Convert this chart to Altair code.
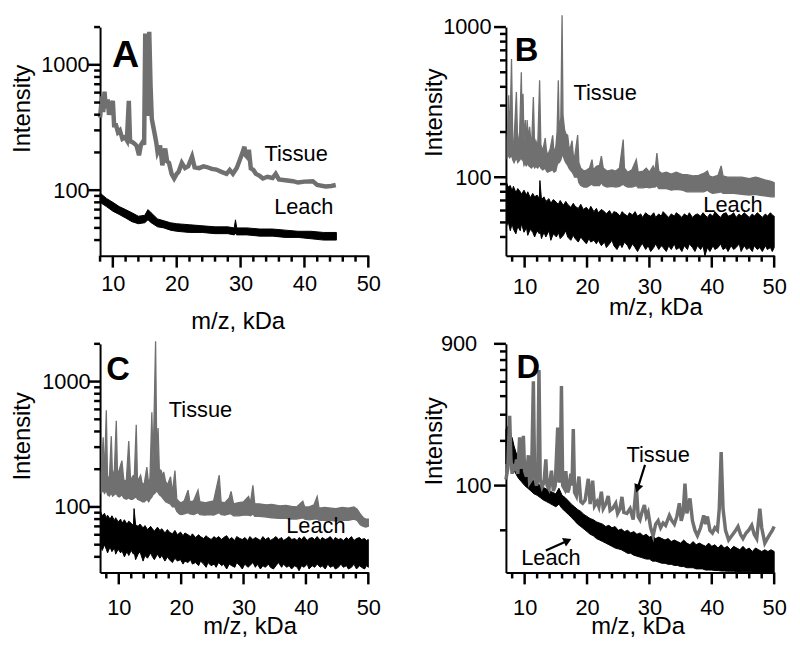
import altair as alt
import pandas as pd

GRAY = "#707070"
FONT = "Liberation Sans"
H = 231  # plot height of every panel
W = 271  # plot width of every panel

# ---------------- Panel A ----------------
A_TISSUE_X = [8.0, 8.3, 8.5, 8.7, 8.9, 9.2, 9.4, 9.7, 10.0, 10.2, 10.5, 10.8, 11.1, 11.5, 11.9, 12.2, 12.5, 12.7, 13.0, 13.4,
              13.7, 14.1, 14.4, 14.7, 14.9, 15.07, 15.25, 15.4, 15.55, 15.7, 15.9, 16.1, 16.5, 16.8, 17.0, 17.4, 17.75, 18.2,
              18.5, 18.8, 19.2, 19.6, 20.0, 20.3, 20.8, 21.3, 21.8, 22.4, 22.8, 23.5, 24.2, 24.7, 25.5, 26.2, 27.0, 27.8,
              28.3, 28.8, 29.4, 29.8, 30.3, 30.6, 30.8, 31.0, 31.3, 31.6, 32.0, 32.4, 33.0, 33.5, 34.2, 35.0, 35.5, 36.0,
              37.0, 38.2, 39.0, 40.0, 41.3, 42.0, 43.3, 44.2, 44.9]
A_TISSUE_Y = [380, 560, 420, 610, 450, 530, 400, 470, 515, 330, 330, 290, 300, 257, 265, 250, 515, 245, 243, 235,
              227, 190, 230, 243, 230, 1780, 600, 392, 700, 1830, 700, 370, 290, 240, 202, 227, 158, 215,
              170, 165, 135, 124, 135, 140, 165, 150, 155, 185, 152, 150, 155, 153, 148, 146, 140, 135,
              145, 135, 150, 170, 200, 222, 190, 185, 210, 149, 145, 135, 130, 124, 128, 125, 135, 122,
              120, 118, 115, 117, 118, 110, 107, 108, 110]
A_LEACH_X = [8.0, 9.0, 10.0, 11.0, 12.0, 13.0, 14.0, 15.0, 15.5, 16.0, 17.0, 18.0, 19.0, 20.0, 22.0, 24.0, 26.0, 28.0,
             29.0, 29.2, 29.4, 31.0, 33.0, 35.0, 37.0, 39.0, 41.0, 43.0, 45.0]
A_LEACH_LO = [80, 74, 68, 64, 60, 56, 54, 55, 58, 55, 51, 50, 48, 47, 46, 46, 45, 45, 44, 45, 44, 44, 43, 43, 42, 42, 41, 40, 40]
A_LEACH_HI = [95, 86, 80, 74, 70, 66, 62, 63, 70, 66, 59, 57, 55, 54, 53, 52, 51, 51, 50, 58, 50, 50, 49, 49, 48, 47, 47, 46, 46]

# ---------------- Panel B ----------------
B_TISSUE_X = [7.2, 7.45, 7.6, 7.9, 8.1, 8.3, 8.68, 8.9, 9.2, 9.47, 9.6, 9.74, 9.9, 10.1, 10.25, 10.4, 10.6, 10.8, 11.1, 11.4,
              11.6, 11.8, 12.1, 12.4, 12.6, 12.9, 13.3, 13.5, 13.7, 14.1, 14.5, 14.7, 15.0, 15.2, 15.4, 15.55, 15.8, 16.0,
              16.15, 16.4, 16.6, 16.9, 17.1, 17.3, 17.6, 17.8, 18.0, 18.5, 18.7, 19.0, 19.5, 20.0, 20.4, 20.8, 21.0, 21.5,
              22.0, 22.3, 22.6, 23.2, 24.0, 24.6, 25.2, 25.8, 26.0, 26.5, 27.2, 27.9, 28.2, 29.0, 29.5, 30.0, 30.6, 30.9,
              31.2, 31.5, 32.0, 32.7, 33.5, 34.3, 35.3, 36.0, 37.0, 37.9, 38.7, 39.3, 39.6, 40.1, 41.0, 41.5, 41.8, 42.5,
              43.5, 44.8, 46.0, 47.0, 47.5, 48.5, 49.5, 50.0]
B_TISSUE_LO = [135, 140, 135, 140, 130, 125, 135, 125, 130, 135, 130, 130, 120, 125, 118, 125, 120, 118, 115, 120,
               115, 118, 115, 120, 115, 112, 115, 110, 108, 110, 112, 108, 110, 120, 125, 125, 130, 140, 140, 130,
               125, 120, 115, 112, 108, 105, 100, 100, 92, 88, 86, 86, 88, 90, 88, 88, 88, 92, 88, 86,
               87, 86, 87, 90, 88, 86, 86, 88, 85, 85, 86, 85, 86, 86, 88, 84, 84, 84, 82, 83,
               82, 80, 80, 80, 80, 82, 80, 78, 79, 80, 78, 78, 78, 77, 76, 77, 76, 75, 74, 74]
B_TISSUE_HI = [175, 352, 170, 612, 165, 175, 370, 160, 200, 500, 200, 360, 170, 240, 160, 240, 180, 217, 155, 342,
               160, 175, 160, 442, 165, 150, 182, 150, 140, 155, 190, 145, 160, 200, 442, 200, 250, 1200, 260, 207,
               195, 190, 160, 155, 175, 140, 135, 191, 125, 115, 110, 112, 115, 131, 112, 118, 120, 138, 115, 110,
               112, 110, 115, 178, 115, 108, 112, 131, 108, 110, 115, 108, 119, 110, 145, 110, 106, 108, 105, 108,
               104, 104, 102, 103, 106, 110, 102, 100, 103, 119, 102, 100, 100, 100, 98, 100, 99, 96, 94, 92]
B_LEACH_X = [7.1, 7.35, 7.7, 8.0, 8.2, 8.6, 8.9, 9.3, 9.5, 9.9,
             10.3, 10.5, 10.9, 11.3, 11.6, 12.0, 12.35, 12.45, 12.7, 13.1,
             13.4, 13.9, 14.2, 14.6, 15.1, 15.4, 15.7, 16.2, 16.6, 16.9,
             17.4, 17.8, 18.1, 18.6, 19.0, 19.4, 19.9, 20.3, 20.6, 21.1,
             21.5, 21.8, 22.3, 22.8, 23.1, 23.6, 24.0, 24.3, 24.8, 25.3,
             25.6, 26.0, 26.5, 26.8, 27.3, 27.7, 28.1, 28.6, 28.9, 29.4,
             29.8, 30.2, 30.7, 31.0, 31.5, 31.9, 32.2, 32.7, 33.1, 33.5,
             34.0, 34.3, 34.8, 35.2, 35.6, 36.1, 36.4, 36.9, 37.3, 37.7,
             38.2, 38.6, 38.9, 39.3, 39.7, 40.2, 40.5, 41.0, 41.4, 41.8,
             42.3, 42.6, 43.1, 43.5, 43.9, 44.4, 44.7, 45.2, 45.6, 46.0,
             46.5, 46.8, 47.3, 47.7, 48.1, 48.6, 48.9, 49.4, 49.7, 50.0]
B_LEACH_HI = [92, 86, 88, 81, 87, 79, 84, 80, 77, 82,
              76, 80, 73, 78, 74, 76, 72, 95, 71, 74,
              69, 72, 67, 71, 68, 66, 70, 65, 69, 66,
              63, 67, 64, 62, 66, 61, 63, 60, 64, 59,
              62, 58, 61, 59, 57, 60, 56, 59, 58, 55,
              59, 57, 55, 58, 56, 59, 55, 57, 54, 58,
              56, 55, 58, 54, 57, 55, 59, 56, 54, 57,
              55, 58, 56, 54, 57, 55, 58, 54, 56, 57,
              55, 58, 56, 54, 57, 55, 59, 56, 54, 57,
              58, 55, 56, 58, 54, 57, 55, 58, 56, 54,
              57, 55, 58, 56, 54, 57, 55, 58, 56, 55]
B_LEACH_LO = [47, 51, 44, 49, 45, 42, 47, 44, 49, 43,
              46, 41, 45, 43, 40, 44, 42, 45, 39, 43,
              40, 44, 38, 42, 40, 43, 39, 41, 44, 40,
              38, 41, 39, 37, 40, 38, 36, 39, 37, 38,
              36, 38, 35, 37, 34, 36, 38, 35, 33, 36,
              34, 37, 35, 33, 36, 34, 32, 35, 36, 33,
              35, 32, 34, 36, 33, 35, 34, 32, 35, 33,
              36, 33, 34, 32, 35, 33, 36, 34, 32, 35,
              33, 35, 30, 34, 32, 35, 33, 34, 36, 33,
              34, 32, 35, 33, 34, 36, 32, 35, 33, 34,
              32, 35, 33, 34, 32, 35, 33, 34, 32, 34]

# ---------------- Panel C ----------------
C_TISSUE_X = [7.2, 7.5, 7.7, 8.0, 8.2, 8.5, 8.8, 9.0, 9.3, 9.6, 9.8, 10.1, 10.5, 10.8, 11.2, 11.6, 11.9, 12.2, 12.5, 12.8,
              13.0, 13.5, 13.8, 14.1, 14.5, 14.8, 15.0, 15.3, 15.5, 15.9, 16.1, 16.3, 16.5, 16.8, 17.0, 17.2, 17.5, 17.8,
              18.3, 18.6, 19.0, 19.3, 19.7, 20.0, 20.5, 21.1, 21.4, 22.0, 22.7, 23.0, 23.8, 24.5, 25.2, 26.1, 26.4, 27.0,
              27.7, 28.0, 28.4, 29.2, 30.0, 30.8, 31.1, 31.5, 31.8, 32.5, 33.7, 34.5, 35.8, 36.8, 37.7, 38.5, 39.5, 39.8,
              40.5, 41.3, 41.8, 42.1, 43.0, 44.0, 44.8, 45.8, 46.8, 47.7, 48.2, 48.7, 49.2, 49.6, 50.0]
C_TISSUE_LO = [130, 135, 128, 135, 125, 122, 130, 122, 125, 128, 122, 120, 125, 118, 115, 118, 115, 115, 118, 120,
               115, 112, 110, 110, 115, 110, 115, 120, 125, 130, 135, 130, 125, 122, 118, 115, 110, 108, 105, 100,
               100, 92, 88, 87, 88, 90, 88, 87, 90, 87, 86, 87, 86, 90, 87, 86, 88, 88, 85, 85,
               86, 86, 85, 88, 84, 84, 83, 82, 81, 81, 80, 80, 82, 80, 79, 80, 80, 78, 78, 78,
               77, 78, 78, 80, 78, 72, 70, 69, 70]
C_TISSUE_HI = [185, 360, 175, 590, 170, 175, 367, 170, 200, 487, 180, 200, 234, 165, 160, 336, 160, 175, 180, 453,
               160, 179, 150, 155, 208, 150, 170, 569, 220, 2100, 250, 426, 200, 195, 175, 190, 160, 150, 174, 130,
               195, 115, 110, 108, 112, 136, 110, 112, 136, 110, 108, 110, 112, 179, 110, 108, 118, 133, 106, 108,
               110, 121, 108, 149, 106, 106, 104, 105, 102, 103, 101, 100, 111, 100, 100, 104, 121, 98, 99, 98,
               97, 99, 98, 100, 96, 88, 82, 80, 80]
C_LEACH_X = [7.1, 7.35, 7.7, 8.0, 8.2, 8.6, 8.9, 9.3, 9.5, 9.9,
             10.3, 10.5, 10.9, 11.3, 11.6, 12.0, 12.35, 12.45, 12.7, 13.1,
             13.4, 13.9, 14.2, 14.6, 15.1, 15.4, 15.7, 16.2, 16.6, 16.9,
             17.4, 17.8, 18.1, 18.6, 19.0, 19.4, 19.9, 20.3, 20.6, 21.1,
             21.5, 21.8, 22.3, 22.8, 23.1, 23.6, 24.0, 24.3, 24.8, 25.3,
             25.6, 26.0, 26.5, 26.8, 27.3, 27.7, 28.1, 28.6, 28.9, 29.4,
             29.8, 30.2, 30.7, 31.0, 31.5, 31.9, 32.2, 32.7, 33.1, 33.5,
             34.0, 34.3, 34.8, 35.2, 35.6, 36.1, 36.4, 36.9, 37.3, 37.7,
             38.2, 38.6, 38.9, 39.3, 39.7, 40.2, 40.5, 41.0, 41.4, 41.8,
             42.3, 42.6, 43.1, 43.5, 43.9, 44.4, 44.7, 45.2, 45.6, 46.0,
             46.5, 46.8, 47.3, 47.7, 48.1, 48.6, 48.9, 49.4, 49.7, 50.0]
C_LEACH_HI = [91, 85, 89, 82, 86, 80, 85, 78, 82, 76,
              80, 74, 79, 73, 77, 74, 71, 97, 72, 70,
              73, 68, 71, 66, 70, 67, 64, 69, 65, 67,
              62, 66, 63, 61, 65, 60, 63, 59, 62, 60,
              58, 61, 57, 60, 58, 56, 59, 57, 55, 58,
              56, 58, 55, 57, 59, 55, 57, 54, 58, 56,
              55, 57, 54, 58, 55, 57, 56, 54, 58, 55,
              57, 54, 56, 58, 55, 57, 54, 56, 58, 55,
              56, 54, 57, 55, 58, 54, 56, 57, 55, 58,
              54, 57, 55, 56, 58, 54, 57, 55, 56, 54,
              57, 55, 58, 54, 56, 57, 55, 56, 54, 55]
C_LEACH_LO = [49, 45, 50, 46, 43, 48, 44, 47, 42, 46,
              43, 45, 40, 44, 41, 45, 42, 44, 38, 42,
              44, 37, 41, 39, 43, 40, 38, 42, 39, 41,
              37, 40, 38, 36, 39, 37, 38, 35, 37, 36,
              38, 35, 36, 34, 37, 35, 33, 36, 34, 35,
              33, 36, 34, 35, 32, 35, 34, 33, 36, 34,
              32, 35, 33, 34, 36, 33, 35, 32, 34, 33,
              35, 33, 32, 34, 36, 33, 35, 33, 34, 32,
              34, 33, 31, 34, 33, 35, 32, 34, 33, 35,
              33, 34, 32, 35, 33, 34, 32, 33, 35, 33,
              34, 32, 33, 35, 32, 34, 33, 32, 34, 33]

# ---------------- Panel D ----------------
D_TISSUE_X = [7.0, 7.3, 7.6, 7.8, 8.0, 8.2, 8.4, 8.7, 8.9, 9.2, 9.4, 9.6, 9.8, 10.0, 10.3, 10.6, 10.8, 11.1, 11.4, 11.6,
              11.9, 12.1, 12.3, 12.5, 12.8, 13.1, 13.4, 13.6, 13.9, 14.3, 14.6, 14.9, 15.3, 15.5, 15.7, 15.9, 16.1, 16.4,
              16.6, 16.9, 17.1, 17.4, 17.6, 17.8, 18.0, 18.3, 18.7, 19.0, 19.3, 19.7, 20.2, 20.5, 20.9, 21.2, 21.6, 21.9,
              22.3, 22.6, 23.0, 23.4, 23.7, 24.1, 24.6, 24.9, 25.3, 25.6, 25.9, 26.4, 26.9, 27.4, 27.9, 28.2, 28.5, 28.8,
              29.2, 29.5, 29.8, 30.2, 30.6, 31.0, 31.4, 31.8, 32.2, 32.6, 33.2, 33.6, 34.0, 34.4, 34.8, 35.1, 35.4, 35.7,
              36.0, 36.2, 36.5, 36.9, 37.3, 37.7, 38.2, 38.7, 39.0, 39.3, 39.7, 40.1, 40.5, 40.9, 41.2, 41.5, 41.8, 42.2,
              42.7, 43.2, 43.7, 44.2, 44.6, 45.0, 45.5, 45.9, 46.4, 46.8, 47.2, 47.7, 48.0, 48.5, 48.9, 49.3, 49.7, 50.0]
D_TISSUE_Y = [110, 130, 295, 150, 120, 140, 125, 150, 120, 211, 130, 140, 216, 125, 115, 160, 105, 110, 503, 115,
              100, 110, 600, 110, 98, 105, 150, 100, 95, 126, 92, 100, 246, 105, 110, 468, 100, 95, 125, 90,
              95, 120, 100, 240, 90, 85, 115, 78, 76, 80, 111, 75, 108, 73, 78, 72, 91, 70, 75, 85,
              68, 70, 76, 65, 70, 84, 66, 65, 70, 59, 100, 62, 59, 66, 74, 62, 66, 52, 46, 55,
              58, 52, 56, 54, 63, 58, 55, 62, 76, 58, 65, 103, 65, 70, 82, 58, 50, 46, 52, 63,
              55, 62, 50, 48, 52, 50, 70, 168, 70, 50, 43, 46, 49, 53, 47, 44, 48, 50, 54, 47,
              44, 70, 52, 41, 44, 47, 50, 53]
D_LEACH_X = [7.0, 7.3, 7.6, 8.0, 8.3, 8.6,
             9.0, 9.5, 10.0, 10.5, 11.0, 11.5, 12.0, 12.5, 13.0, 13.5,
             14.0, 14.5, 15.0, 15.5, 16.0, 16.5, 17.0, 17.5, 18.0, 18.5,
             19.0, 19.5, 20.0, 20.5, 21.0, 21.5, 22.0, 22.5, 23.0, 23.5,
             24.0, 24.5, 25.0, 25.5, 26.0, 26.5, 27.0, 27.5, 28.0, 28.5,
             29.0, 29.5, 30.0, 30.5, 31.0, 31.5, 32.0, 32.5, 33.0, 33.5,
             34.0, 34.5, 35.0, 35.5, 36.0, 36.5, 37.0, 37.5, 38.0, 38.5,
             39.0, 39.5, 40.0, 40.5, 41.0, 41.5, 42.0, 42.5, 43.0, 43.5,
             44.0, 44.5, 45.0, 45.5, 46.0, 46.5, 47.0, 47.5, 48.0, 48.5,
             49.0, 49.5, 50.0]
D_LEACH_HI = [240, 250, 225, 210, 185, 168,
              152, 138, 127, 119, 113, 108, 104, 100, 97, 95,
              92, 90, 88, 96, 86, 83, 79, 75, 72, 69,
              67, 64, 62, 60, 59, 57, 56, 55, 53, 54,
              52, 53, 50, 51, 49, 50, 48, 49, 47, 48,
              46, 47, 45, 46, 44, 45, 44, 43, 44, 42,
              43, 42, 41, 43, 41, 40, 42, 40, 41, 40,
              39, 41, 39, 40, 38, 40, 38, 39, 37, 39,
              38, 37, 39, 37, 38, 36, 38, 37, 36, 37,
              36, 37, 36]
D_LEACH_LO = [140, 150, 142, 135, 126, 120,
              112, 106, 100, 96, 92, 88, 86, 83, 80, 78,
              76, 74, 72, 75, 70, 67, 64, 61, 58, 55,
              53, 51, 49, 47, 46, 44, 43, 42, 41, 40,
              39, 38, 37.5, 37, 36, 35, 35, 34, 33.5, 33,
              32.5, 32, 32, 31, 31, 30.5, 30, 30, 29.5, 29.5,
              29, 29, 28.5, 28.5, 28, 28, 28, 27.5, 27.5, 27.5,
              27, 27, 27, 26.8, 26.8, 26.6, 26.6, 26.5, 26.5, 26.5,
              26.4, 26.4, 26.3, 26.3, 26.3, 26.2, 26.2, 26.2, 26.2, 26.2,
              26.2, 26.2, 26.2]

# ---------------- annotations (data coordinates) ----------------
LETTERS = ["A", "B", "C", "D"]
LETTER_X = [12.0, 10.3, 9.9, 10.6]
LETTER_Y = [960, 597, 1038, 533]
LETTER_SIZE = [38, 33, 33, 33]
TISSUE_LBL_X = [38.7, 22.9, 23.1, 31.4]
TISSUE_LBL_Y = [172, 326, 526, 145]
LEACH_LBL_X = [39.9, 43.4, 41.6, 14.2]
LEACH_LBL_Y = [65, 58.6, 61.5, 29]
ARROW_X1 = [29.3, 13.4]
ARROW_Y1 = [138, 36.5]
ARROW_X2 = [28.1, 16.9]
ARROW_Y2 = [95.5, 42.6]
ARROW_ANGLE = [197, 65]

# ---------------- tick values ----------------
X_MINOR = [8, 12, 14, 16, 18, 22, 24, 26, 28, 32, 34, 36, 38, 42, 44, 46, 48]
X_MAJOR = [10, 20, 30, 40, 50]
Y_MINOR_AC = [40, 50, 60, 70, 80, 90, 200, 300, 400, 500, 600, 700, 800, 900, 2000]
Y_MINOR_B = [40, 50, 60, 70, 80, 90, 200, 300, 400, 500, 600, 700, 800, 900]
Y_MINOR_D = [50, 200, 300, 400, 500, 600, 700, 800]
Y_MAJOR_ABC = [100, 1000]
Y_MAJOR_D = [100, 900]


def make_panel(idx, tissue, tissue_kind, tissue_w, leach, xdom, ydom, yminor, ymajor,
               ytx, yty, xtx, xty, xlp, ylp, arrows=None, top_label=None):
    xs = alt.Scale(domain=xdom, nice=False, zero=False)
    ys = alt.Scale(type="log", domain=ydom, nice=False)
    xaxis = alt.Axis(values=X_MAJOR, ticks=False, labelPadding=xlp, labelFlush=False, labelOverlap=False,
                     title="m/z, kDa", titleX=xtx, titleY=xty, titleBaseline="top", grid=False)
    lab_values = [v for v in ymajor if v != top_label]
    yaxis = alt.Axis(values=lab_values, ticks=False, labelPadding=ylp, labelOverlap=False, format="d",
                     title="Intensity", titleX=ytx, titleY=yty, titleBaseline="bottom", grid=False)

    def X(f="x"):
        return alt.X(f"{f}:Q", scale=xs, axis=xaxis)

    def Y(f):
        return alt.Y(f"{f}:Q", scale=ys, axis=yaxis)

    leach_layer = alt.Chart(leach).mark_area(color="black", stroke="black", strokeWidth=1).encode(
        x=X(), y=Y("lo"), y2="hi:Q")
    if tissue_kind == "area":
        tissue_layer = alt.Chart(tissue).mark_area(color=GRAY, stroke=GRAY, strokeWidth=tissue_w).encode(
            x=X(), y=Y("lo"), y2="hi:Q")
    else:
        tissue_layer = alt.Chart(tissue).mark_line(color=GRAY, strokeWidth=tissue_w).encode(
            x=X(), y=Y("y"))

    layers = [leach_layer, tissue_layer]

    # tick marks: short bars just outside the axis lines, placed through the panel's scales
    for vals, ln in ((X_MINOR, 6), (X_MAJOR, 12)):
        d = pd.DataFrame({"x": vals, "y0": [ydom[0]] * len(vals)})
        layers.append(alt.Chart(d).mark_rule(color="black", strokeWidth=2.5, y2Offset=ln).encode(
            x=X(), y=Y("y0"), y2="y0:Q"))
    for vals, ln in ((yminor, 6), (ymajor, 12)):
        d = pd.DataFrame({"y": vals, "x0": [xdom[0]] * len(vals)})
        layers.append(alt.Chart(d).mark_rule(color="black", strokeWidth=2.5, x2Offset=-ln).encode(
            y=Y("y"), x=X("x0"), x2="x0:Q"))

    lbl = pd.DataFrame({
        "x": [TISSUE_LBL_X[idx], LEACH_LBL_X[idx]],
        "y": [TISSUE_LBL_Y[idx], LEACH_LBL_Y[idx]],
        "t": ["Tissue", "Leach"],
    })
    layers.append(alt.Chart(lbl).mark_text(font=FONT, fontSize=22, align="center",
                                           baseline="alphabetic", color="black").encode(
        x=X(), y=Y("y"), text="t:N"))
    let = pd.DataFrame({"x": [LETTER_X[idx]], "y": [LETTER_Y[idx]], "t": [LETTERS[idx]]})
    layers.append(alt.Chart(let).mark_text(font=FONT, fontSize=LETTER_SIZE[idx], fontWeight="bold",
                                           align="center", baseline="alphabetic", color="black").encode(
        x=X(), y=Y("y"), text="t:N"))
    if top_label is not None:
        tl = pd.DataFrame({"y": [top_label], "t": [str(top_label)]})
        layers.append(alt.Chart(tl).mark_text(font=FONT, fontSize=22, align="right", baseline="middle",
                                              dx=-29, color="black").encode(
            x=alt.value(0), y=Y("y"), text="t:N"))
    if arrows is not None:
        layers.append(alt.Chart(arrows).mark_rule(color="black", strokeWidth=2.2).encode(
            x=X(), y=Y("y"), x2="x2:Q", y2="y2:Q"))
        layers.append(alt.Chart(arrows).mark_point(shape="triangle-up", filled=True, size=90, color="black",
                                                   opacity=1).encode(
            x=X("x2"), y=Y("y2"), angle=alt.Angle("ang:Q", scale=None)))
    return alt.layer(*layers).properties(width=W, height=H)


pA = make_panel(0, pd.DataFrame({"x": A_TISSUE_X, "y": A_TISSUE_Y}), "line", 4.5,
                pd.DataFrame({"x": A_LEACH_X, "lo": A_LEACH_LO, "hi": A_LEACH_HI}),
                [8, 50], [30, 2000], Y_MINOR_AC, Y_MAJOR_ABC, -66, 82, 139, 55, 18, 11)
pB = make_panel(1, pd.DataFrame({"x": B_TISSUE_X, "lo": B_TISSUE_LO, "hi": B_TISSUE_HI}), "area", 1.3,
                pd.DataFrame({"x": B_LEACH_X, "lo": B_LEACH_LO, "hi": B_LEACH_HI}),
                [7, 50], [30, 1000], Y_MINOR_B, Y_MAJOR_ABC, -60, 86, 151, 40, 21, 15)
pC = make_panel(2, pd.DataFrame({"x": C_TISSUE_X, "lo": C_TISSUE_LO, "hi": C_TISSUE_HI}), "area", 1.3,
                pd.DataFrame({"x": C_LEACH_X, "lo": C_LEACH_LO, "hi": C_LEACH_HI}),
                [7, 50], [30, 2000], Y_MINOR_AC, Y_MAJOR_ABC, -66, 93, 151, 43, 25, 10)
arrows = pd.DataFrame({"x": ARROW_X1, "y": ARROW_Y1, "x2": ARROW_X2, "y2": ARROW_Y2, "ang": ARROW_ANGLE})
pD = make_panel(3, pd.DataFrame({"x": D_TISSUE_X, "y": D_TISSUE_Y}), "line", 3.5,
                pd.DataFrame({"x": D_LEACH_X, "lo": D_LEACH_LO, "hi": D_LEACH_HI}),
                [7, 50], [26, 900], Y_MINOR_D, Y_MAJOR_D, -60, 98, 133, 43, 25, 15,
                arrows=arrows, top_label=900)

chart = alt.concat(pA, pB, pC, pD, columns=2, spacing={"row": 89, "column": 139}, bounds="flush").properties(
    padding={"left": 3, "top": 1, "right": 5, "bottom": 5}
).configure_view(stroke=None).configure_axis(
    domainColor="black", domainWidth=2, grid=False,
    labelFont=FONT, labelFontSize=22, labelColor="black",
    titleFont=FONT, titleFontSize=24, titleFontWeight="normal", titleColor="black",
)

chart.save("out.html", embed_options={"renderer": "svg", "actions": False})
